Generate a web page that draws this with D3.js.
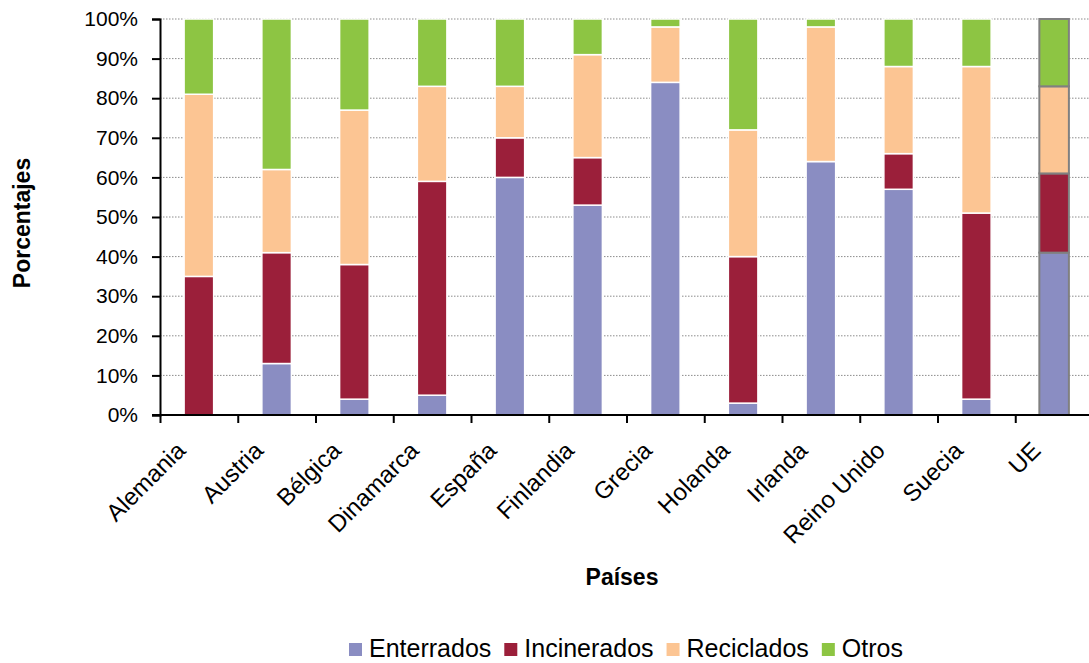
<!DOCTYPE html>
<html>
<head>
<meta charset="utf-8">
<script src="https://cdn.jsdelivr.net/npm/d3@7"></script>
<style>
  body { margin: 0; background: #fff; }
  svg { font-family: "Liberation Sans", Arial, sans-serif; }
</style>
</head>
<body>
<svg id="chart" width="1089" height="663"></svg>
<script>
var paises = ["Alemania", "Austria", "Bélgica", "Dinamarca", "España", "Finlandia",
              "Grecia", "Holanda", "Irlanda", "Reino Unido", "Suecia", "UE"];
var series = ["Enterrados", "Incinerados", "Reciclados", "Otros"];
var enterrados  = [0, 13, 4, 5, 60, 53, 84, 3, 64, 57, 4, 41];
var incinerados = [35, 28, 34, 54, 10, 12, 0, 37, 0, 9, 47, 20];
var reciclados  = [46, 21, 39, 24, 13, 26, 14, 32, 34, 22, 37, 22];
var otros       = [19, 38, 23, 17, 17, 9, 2, 28, 2, 12, 12, 17];
var yTicks = [0, 10, 20, 30, 40, 50, 60, 70, 80, 90, 100];

var colores = ["#8a8dc2", "#9b1f3a", "#fcc593", "#8dc543"];

var rows = paises.map(function(p, i) {
  return { pais: p, Enterrados: enterrados[i], Incinerados: incinerados[i],
           Reciclados: reciclados[i], Otros: otros[i] };
});

var svg = d3.select("#chart");
var mLeft = 160, mTop = 19, mRight = 1093, mBottom = 415;

var x = d3.scaleBand().domain(paises).range([mLeft, mRight]).paddingInner(0.62).paddingOuter(0.31);
var xi = d3.scaleLinear().domain([0, paises.length]).range([mLeft, mRight]);
var y = d3.scaleLinear().domain([0, 100]).range([mBottom, mTop]);
var color = d3.scaleOrdinal().domain(series).range(colores);

// dotted grid
svg.append("g").selectAll("line")
  .data(yTicks.filter(function(d) { return d > 0; }))
  .enter().append("line")
    .attr("x1", mLeft).attr("x2", 1089)
    .attr("y1", function(d) { return y(d); })
    .attr("y2", function(d) { return y(d); })
    .attr("stroke", "#8c8c8c")
    .attr("stroke-width", 1)
    .attr("stroke-dasharray", "1.5,1.5");

var stack = d3.stack().keys(series)(rows);

var layer = svg.append("g").selectAll("g")
  .data(stack)
  .enter().append("g")
    .attr("fill", function(d) { return color(d.key); });

layer.selectAll("rect")
  .data(function(d) { return d; })
  .enter().append("rect")
    .attr("x", function(d) { return x(d.data.pais); })
    .attr("width", x.bandwidth())
    .attr("y", function(d) { return y(d[1]); })
    .attr("height", function(d) { return Math.max(0, y(d[0]) - y(d[1])); })
    .attr("stroke", function(d) { return d.data.pais == "UE" ? "#808080" : "#fff"; })
    .attr("stroke-width", function(d) { return d.data.pais == "UE" ? 2 : 1.5; })
    .style("display", function(d) { return d[1] - d[0] > 0 ? null : "none"; });

// y axis
var yAxis = svg.append("g")
  .attr("transform", "translate(" + mLeft + ",0)")
  .call(d3.axisLeft(y).tickValues(yTicks).tickSize(8).tickPadding(14)
        .tickFormat(function(d) { return d + "%"; }));
yAxis.select(".domain").attr("stroke", "#000").attr("stroke-width", 2);
yAxis.selectAll(".tick line").attr("stroke", "#000").attr("stroke-width", 2);
yAxis.selectAll("text").attr("font-size", 21).attr("fill", "#000")
  .attr("font-family", "Liberation Sans, Arial, sans-serif");

// x axis with ticks at category boundaries
var xAxis = svg.append("g")
  .attr("transform", "translate(0," + mBottom + ")")
  .call(d3.axisBottom(xi).tickValues(d3.range(paises.length + 1)).tickSize(8)
        .tickSizeOuter(0).tickFormat(""));
xAxis.select(".domain").attr("stroke", "#000").attr("stroke-width", 2)
  .attr("d", "M" + (mLeft - 8) + ",0H1089");
xAxis.selectAll(".tick line").attr("stroke", "#000").attr("stroke-width", 2);

svg.append("g").selectAll("text")
  .data(paises)
  .enter().append("text")
    .attr("transform", function(d) {
      return "translate(" + (x(d) + x.bandwidth() / 2 - 18) + "," + (mBottom + 31) + ") rotate(-45)";
    })
    .attr("text-anchor", "end")
    .attr("dy", "0.35em")
    .attr("font-size", 24)
    .text(function(d) { return d; });

// axis titles
svg.append("text")
  .attr("transform", "translate(30,223) rotate(-90)")
  .attr("text-anchor", "middle")
  .attr("font-size", 23).attr("font-weight", "bold")
  .text("Porcentajes");

svg.append("text")
  .attr("x", 622).attr("y", 585)
  .attr("text-anchor", "middle")
  .attr("font-size", 23).attr("font-weight", "bold")
  .text("Países");

// legend
var legend = svg.append("g").attr("transform", "translate(349,0)");
var lx = 0;
series.forEach(function(s) {
  var g = legend.append("g").attr("transform", "translate(" + lx + ",0)");
  g.append("rect").attr("x", 0).attr("y", 643).attr("width", 13).attr("height", 13)
    .attr("fill", color(s));
  var t = g.append("text").attr("x", 20).attr("y", 657)
    .attr("font-size", 25).text(s);
  lx += 20 + t.node().getComputedTextLength() + 13;
});
</script>
</body>
</html>
